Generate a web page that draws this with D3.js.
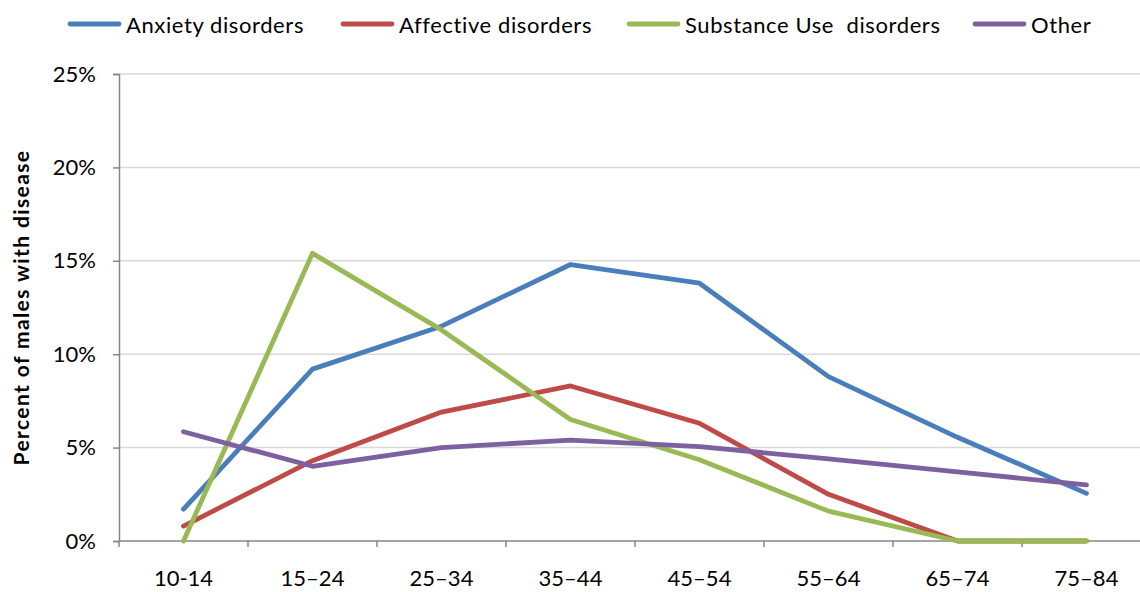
<!DOCTYPE html>
<html>
<head>
<meta charset="utf-8">
<script src="https://cdn.jsdelivr.net/npm/d3@7"></script>
<style>
  html, body { margin: 0; padding: 0; background: #fff; }
  svg { display: block; font-family: Lato, "Open Sans", sans-serif; }
</style>
</head>
<body>
<svg id="chart" width="1140" height="592"></svg>
<script>
// Age groups along the x axis
const ageGroups = ["10-14", "15\u201324", "25\u201334", "35\u201344", "45\u201354", "55\u201364", "65\u201374", "75\u201384"];

// Share of males with each disease group, per age group (fractions)
const anxiety   = [0.017, 0.092, 0.115, 0.148, 0.138, 0.088, 0.0555, 0.0255];
const affective = [0.008, 0.043, 0.069, 0.083, 0.063, 0.025, 0.0, 0.0];
const substance = [0.0, 0.154, 0.113, 0.065, 0.0435, 0.016, 0.0, 0.0];
const other     = [0.0585, 0.040, 0.050, 0.054, 0.0505, 0.044, 0.037, 0.030];

const seriesNames = ["Anxiety disorders", "Affective disorders", "Substance Use  disorders", "Other"];
const yTicks = [0, 0.05, 0.10, 0.15, 0.20, 0.25];

const series = [
  { name: seriesNames[0], values: anxiety,   color: "#4A7EBB" },
  { name: seriesNames[1], values: affective, color: "#BE4B48" },
  { name: seriesNames[2], values: substance, color: "#98B954" },
  { name: seriesNames[3], values: other,     color: "#7D60A0" }
];

const svg = d3.select("#chart");
const plotLeft = 119, plotRight = 1151, plotTop = 74, plotBottom = 541;

const x = d3.scaleBand().domain(ageGroups).range([plotLeft, plotRight]).padding(0);
const y = d3.scaleLinear().domain([0, 0.25]).range([plotBottom, plotTop]);
const cx = d => x(d) + x.bandwidth() / 2;

// Horizontal gridlines
svg.append("g")
  .selectAll("line")
  .data(yTicks.slice(1))
  .join("line")
  .attr("x1", plotLeft).attr("x2", 1140)
  .attr("y1", d => y(d)).attr("y2", d => y(d))
  .attr("stroke", "#D9D9D9").attr("stroke-width", 1.5);

// Y axis
const yAxis = svg.append("g")
  .attr("transform", `translate(${plotLeft},0)`)
  .call(d3.axisLeft(y).tickValues(yTicks).tickFormat(d3.format(".0%")).tickSize(6).tickPadding(17));
yAxis.select(".domain").attr("stroke", "#868686").attr("stroke-width", 1.5);
yAxis.selectAll(".tick line").attr("stroke", "#868686").attr("stroke-width", 1.5);
yAxis.selectAll(".tick text").attr("font-size", 22).attr("fill", "#000")
  .attr("font-family", "Lato, sans-serif");

// X axis: labels centred in each band, tick marks on band boundaries
const xAxis = svg.append("g")
  .attr("transform", `translate(0,${plotBottom})`)
  .call(d3.axisBottom(x).tickSize(0));
xAxis.select(".domain").remove();
xAxis.selectAll(".tick text")
  .attr("y", 45).attr("dy", null)
  .attr("font-size", 22).attr("fill", "#000")
  .attr("font-family", "Lato, sans-serif");

svg.append("line")
  .attr("x1", plotLeft).attr("x2", 1140)
  .attr("y1", plotBottom).attr("y2", plotBottom)
  .attr("stroke", "#868686").attr("stroke-width", 1.5);

svg.append("g")
  .selectAll("line")
  .data(ageGroups)
  .join("line")
  .attr("x1", d => x(d)).attr("x2", d => x(d))
  .attr("y1", plotBottom).attr("y2", plotBottom + 6)
  .attr("stroke", "#868686").attr("stroke-width", 1.5);

// Y axis title
svg.append("text")
  .attr("transform", `translate(29,${(plotTop + plotBottom) / 2}) rotate(-90)`)
  .attr("text-anchor", "middle")
  .attr("font-size", 21).attr("font-weight", "bold")
  .attr("letter-spacing", 1.4)
  .attr("font-family", "Lato, sans-serif")
  .text("Percent of males with disease");

// Series lines
const line = d3.line()
  .x((d, i) => cx(ageGroups[i]))
  .y(d => y(d));

svg.append("g")
  .selectAll("path")
  .data(series)
  .join("path")
  .attr("d", s => line(s.values))
  .attr("fill", "none")
  .attr("stroke", s => s.color)
  .attr("stroke-width", 4.8)
  .attr("stroke-linejoin", "round")
  .attr("stroke-linecap", "round");

// Legend
const legendPos = [70, 343, 629, 975];
const legend = svg.append("g")
  .selectAll("g")
  .data(series)
  .join("g")
  .attr("transform", (s, i) => `translate(${legendPos[i]},24)`);
legend.append("line")
  .attr("x1", 0).attr("x2", 49).attr("y1", 0).attr("y2", 0)
  .attr("stroke", s => s.color).attr("stroke-width", 4.8)
  .attr("stroke-linecap", "round");
legend.append("text")
  .attr("x", 56).attr("y", 9.3)
  .attr("font-size", 22)
  .attr("letter-spacing", 0.6)
  .attr("font-family", "Lato, sans-serif")
  .attr("xml:space", "preserve")
  .style("white-space", "pre")
  .text(s => s.name);
</script>
</body>
</html>
